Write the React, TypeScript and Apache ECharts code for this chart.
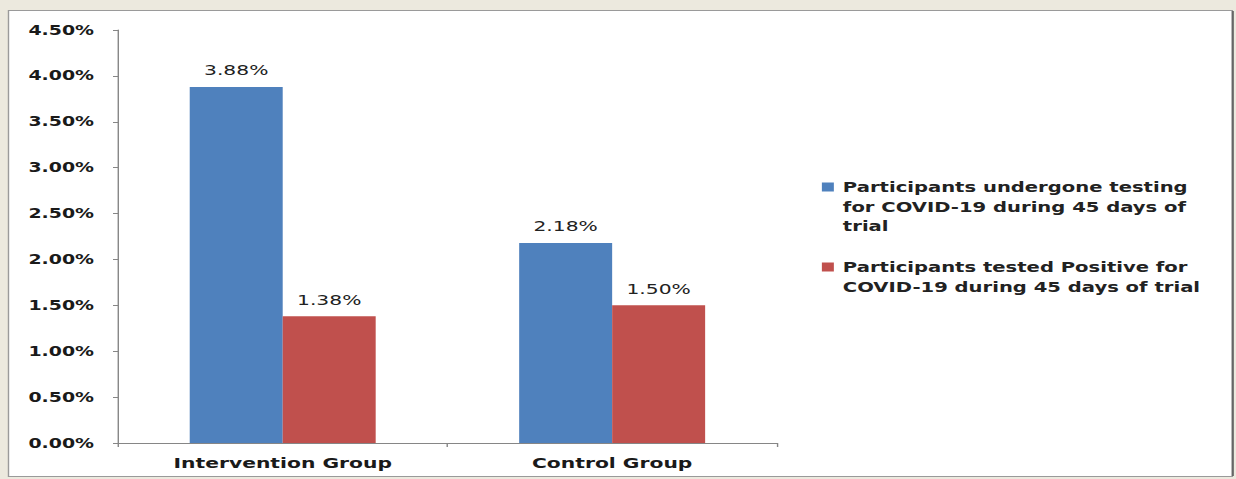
import React, { useEffect, useRef } from "react";
import * as echarts from "echarts";

const categories = ["Intervention Group", "Control Group"];
const seriesNames = [
  "Participants undergone testing for COVID-19 during 45 days of trial",
  "Participants tested Positive for COVID-19 during 45 days of trial",
];
const testedValues = [3.88, 2.18];
const positiveValues = [1.38, 1.5];
const legendLines = [
  ["Participants undergone testing", "for COVID-19 during 45 days of", "trial"],
  ["Participants tested Positive for", "COVID-19 during 45 days of trial"],
];
const seriesColors = ["#4F81BD", "#C0504D"];

const SX = 1.4; // horizontal stretch of the reference image
const W = 1236;
const H = 479;
const CW = Math.round(W / SX);
const FONT = '"DejaVu Sans", Verdana, sans-serif';
const px = (x: number) => x / SX;

export default function App() {
  const ref = useRef<HTMLDivElement>(null);
  useEffect(() => {
    if (!ref.current) return;
    const chart = echarts.init(ref.current, null, { renderer: "svg" });
    const legendGraphics: any[] = [];
    const legendTops = [177.5, 257.5];
    legendLines.forEach((lines, i) => {
      legendGraphics.push({
        type: "rect",
        shape: { x: px(822), y: legendTops[i] + 5, width: px(12), height: 9 },
        style: { fill: seriesColors[i] },
        silent: true,
      });
      legendGraphics.push({
        type: "text",
        x: px(843),
        y: legendTops[i],
        style: {
          text: lines.join("\n"),
          fontFamily: FONT,
          fontWeight: "bold",
          fontSize: 14,
          lineHeight: 19.5,
          fill: "#222",
          align: "left",
          verticalAlign: "top",
        },
        silent: true,
      });
    });

    chart.setOption({
      animation: false,
      backgroundColor: "#ECE9DE",
      graphic: [
        {
          type: "rect",
          z: -10,
          shape: { x: px(8.5), y: 10.5, width: px(1224), height: 466 },
          style: { fill: "#FFFFFF", stroke: "#9A9A9A", lineWidth: 1 },
          silent: true,
        },
        {
          type: "line",
          z: -9,
          shape: { x1: px(1233), y1: 11, x2: px(1233), y2: 476 },
          style: { stroke: "#666", lineWidth: 1.5 },
          silent: true,
        },
        ...legendGraphics,
      ],
      grid: {
        left: px(118),
        right: CW - px(777),
        top: 30,
        bottom: H - 443,
        containLabel: false,
      },
      xAxis: {
        type: "category",
        data: categories,
        axisLine: { lineStyle: { color: "#868686", width: 1 } },
        axisTick: { show: true, length: 4, lineStyle: { color: "#868686" } },
        axisLabel: {
          margin: 13,
          color: "#1a1a1a",
          fontFamily: FONT,
          fontWeight: "bold",
          fontSize: 14.5,
        },
      },
      yAxis: {
        type: "value",
        min: 0,
        max: 4.5,
        interval: 0.5,
        splitLine: { show: false },
        axisLine: { show: true, lineStyle: { color: "#868686", width: 1 } },
        axisTick: { show: true, length: px(5), lineStyle: { color: "#868686" } },
        axisLabel: {
          margin: px(24),
          color: "#1a1a1a",
          fontFamily: FONT,
          fontWeight: "bold",
          fontSize: 13.5,
          formatter: (v: number) => v.toFixed(2) + "%",
        },
      },
      series: [
        {
          name: seriesNames[0],
          type: "bar",
          data: testedValues,
          barWidth: px(93),
          barGap: "0%",
          itemStyle: { color: seriesColors[0] },
          label: {
            show: true,
            position: "top",
            distance: 9,
            color: "#222",
            fontFamily: FONT,
            fontSize: 14.5,
            formatter: (p: any) => Number(p.value).toFixed(2) + "%",
          },
        },
        {
          name: seriesNames[1],
          type: "bar",
          data: positiveValues,
          barWidth: px(93),
          barGap: "0%",
          itemStyle: { color: seriesColors[1] },
          label: {
            show: true,
            position: "top",
            distance: 9,
            color: "#222",
            fontFamily: FONT,
            fontSize: 14.5,
            formatter: (p: any) => Number(p.value).toFixed(2) + "%",
          },
        },
      ],
    });
    return () => chart.dispose();
  }, []);

  return (
    <div
      style={{
        position: "fixed",
        left: 0,
        top: 0,
        width: W,
        height: H,
        overflow: "hidden",
        background: "#ECE9DE",
      }}
    >
      <div
        ref={ref}
        style={{
          width: CW,
          height: H,
          transform: `scaleX(${W / CW})`,
          transformOrigin: "0 0",
        }}
      />
    </div>
  );
}
